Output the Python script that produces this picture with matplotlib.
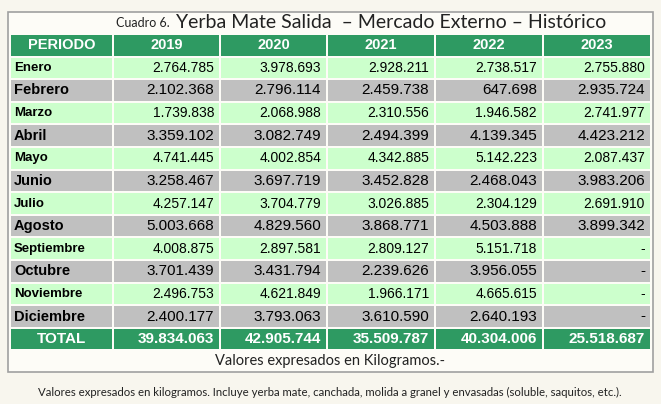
import matplotlib
matplotlib.use("Agg")
import matplotlib.pyplot as plt
from matplotlib.patches import Rectangle

years = ["2019", "2020", "2021", "2022", "2023"]
months = ["Enero", "Febrero", "Marzo", "Abril", "Mayo", "Junio", "Julio", "Agosto",
          "Septiembre", "Octubre", "Noviembre", "Diciembre"]
v2019 = ["2.764.785", "2.102.368", "1.739.838", "3.359.102", "4.741.445", "3.258.467",
         "4.257.147", "5.003.668", "4.008.875", "3.701.439", "2.496.753", "2.400.177"]
v2020 = ["3.978.693", "2.796.114", "2.068.988", "3.082.749", "4.002.854", "3.697.719",
         "3.704.779", "4.829.560", "2.897.581", "3.431.794", "4.621.849", "3.793.063"]
v2021 = ["2.928.211", "2.459.738", "2.310.556", "2.494.399", "4.342.885", "3.452.828",
         "3.026.885", "3.868.771", "2.809.127", "2.239.626", "1.966.171", "3.610.590"]
v2022 = ["2.738.517", "647.698", "1.946.582", "4.139.345", "5.142.223", "2.468.043",
         "2.304.129", "4.503.888", "5.151.718", "3.956.055", "4.665.615", "2.640.193"]
v2023 = ["2.755.880", "2.935.724", "2.741.977", "4.423.212", "2.087.437", "3.983.206",
         "2.691.910", "3.899.342", "-", "-", "-", "-"]
totals = ["39.834.063", "42.905.744", "35.509.787", "40.304.006", "25.518.687"]
cols = [v2019, v2020, v2021, v2022, v2023]

GREEN = "#2e9a62"
LIGHT = "#ccffcc"
GRAY = "#c0c0c0"
SANS = "Liberation Sans"
CAL = "Lato"

fig = plt.figure(figsize=(6.61, 4.04), dpi=100)
fig.patch.set_facecolor("#f8f6ee")
ax = fig.add_axes([0, 0, 1, 1])
ax.set_xlim(0, 661)
ax.set_ylim(404, 0)
ax.axis("off")

# outer box
ax.add_patch(Rectangle((8, 12), 645, 360, facecolor="#fdfcf7", edgecolor="#a0a0a0", lw=1.2))
ax.text(170, 23, "Cuadro 6.", fontsize=9, family=CAL, va="center", ha="right", color="#222")
ax.text(176, 22, "Yerba Mate Salida  – Mercado Externo – Histórico", fontsize=14,
        family=CAL, va="center", ha="left", color="#222")

xs = [10, 113, 220, 327, 435, 543, 651]
top = 34
rh = 22.6

def cell(r, c, color):
    y = top + r * rh
    ax.add_patch(Rectangle((xs[c] + 1, y + 1), xs[c + 1] - xs[c] - 2, rh - 2,
                           facecolor=color, edgecolor="none"))
    return y + rh / 2

# header
for c in range(6):
    yc = cell(0, c, GREEN)
    label = "PERIODO" if c == 0 else years[c - 1]
    ax.text((xs[c] + xs[c + 1]) / 2, yc, label, color="white", fontsize=10.5,
            fontweight="bold", family=SANS, ha="center", va="center")

for i, m in enumerate(months):
    r = i + 1
    color = LIGHT if i % 2 == 0 else GRAY
    fs = 10 if i % 2 == 0 else 11
    yc = cell(r, 0, color)
    ax.text(xs[0] + 4, yc, m, fontsize=fs - 0.5, fontweight="bold", family=SANS, ha="left", va="center")
    for c in range(5):
        cell(r, c + 1, color)
        val = cols[c][i]
        ax.text(xs[c + 2] - 6, yc, val, fontsize=fs, family=SANS, ha="right", va="center")

r = 13
yc = cell(r, 0, GREEN)
ax.text((xs[0] + xs[1]) / 2, yc, "TOTAL", color="white", fontsize=11, fontweight="bold",
        family=SANS, ha="center", va="center")
for c in range(5):
    cell(r, c + 1, GREEN)
    ax.text(xs[c + 2] - 6, yc, totals[c], color="white", fontsize=11, fontweight="bold",
            family=SANS, ha="right", va="center")

yf = top + 14 * rh
ax.text(330, yf + 11, "Valores expresados en Kilogramos.-", fontsize=10.5, family=CAL,
        ha="center", va="center", color="#222")
ax.text(330, 392, "Valores expresados en kilogramos. Incluye yerba mate, canchada, molida a granel y envasadas (soluble, saquitos, etc.).",
        fontsize=8.2, family=CAL, ha="center", va="center", color="#222")

fig.savefig("out.png", dpi=100, facecolor=fig.get_facecolor())
